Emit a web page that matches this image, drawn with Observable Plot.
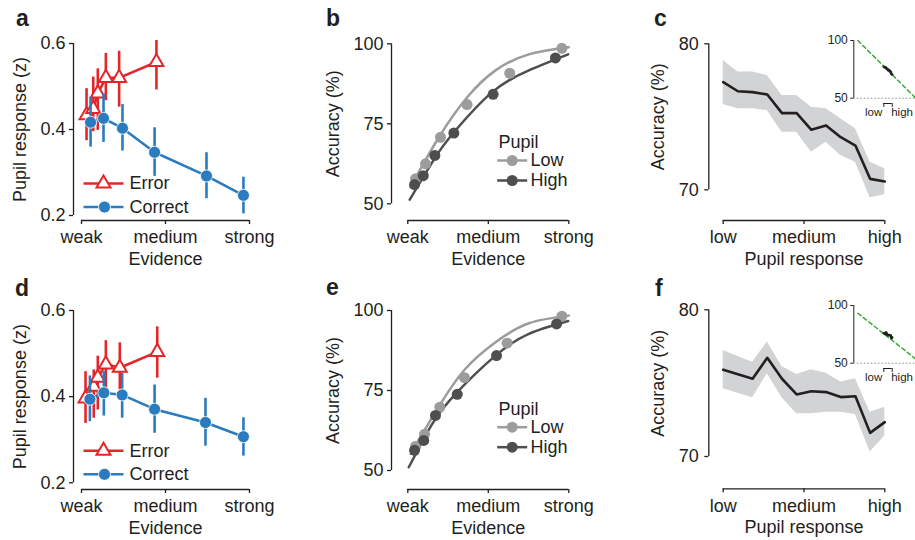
<!DOCTYPE html>
<html><head><meta charset="utf-8">
<script src="https://cdn.jsdelivr.net/npm/d3@7"></script>
<script src="https://cdn.jsdelivr.net/npm/@observablehq/plot@0.6"></script>
<style>
html,body{margin:0;padding:0;overflow:hidden;background:#fff;width:915px;height:540px}
#root{position:relative;width:915px;height:540px;font-family:"Liberation Sans",Arial,Helvetica,sans-serif;color:#231f20;overflow:hidden}
.panel{position:absolute}
.letter{position:absolute;font-weight:bold;font-size:23px;line-height:23px}
</style></head><body><div id="root"></div>
<script>
// ---------- ticks ----------
const evidenceTicks = [0, 0.5, 1];
const evidenceTickLabels = ["weak", "medium", "strong"];
const pupilYTicks = [0.2, 0.4, 0.6];
const accTicks = [50, 75, 100];
const curveTicks = [70, 80];
const pupilBins = [1, 2, 3, 4, 5, 6, 7, 8, 9, 10, 11, 12];
const pupilTicks = [1, 6.5, 12];
const pupilTickLabels = ["low", "medium", "high"];
const insetTicks = [50, 100];
const insetBracket = [1, 12];

// ---------- panel a ----------
const aCorrectX = [0.054, 0.131, 0.244, 0.435, 0.744, 0.964];
const aCorrectY = [0.417, 0.426, 0.403, 0.347, 0.292, 0.247];
const aCorrectLo = [0.359, 0.370, 0.350, 0.291, 0.239, 0.204];
const aCorrectHi = [0.475, 0.483, 0.458, 0.404, 0.346, 0.289];
const aErrorX = [0.030, 0.070, 0.097, 0.145, 0.224, 0.446];
const aErrorY = [0.433, 0.448, 0.484, 0.520, 0.520, 0.557];
const aErrorLo = [0.374, 0.395, 0.398, 0.467, 0.452, 0.492];
const aErrorHi = [0.495, 0.522, 0.541, 0.577, 0.582, 0.607];

// ---------- panel d ----------
const dCorrectX = [0.050, 0.133, 0.242, 0.435, 0.738, 0.964];
const dCorrectY = [0.394, 0.409, 0.404, 0.371, 0.340, 0.307];
const dCorrectLo = [0.342, 0.355, 0.350, 0.315, 0.285, 0.262];
const dCorrectHi = [0.448, 0.458, 0.454, 0.427, 0.396, 0.351];
const dErrorX = [0.024, 0.073, 0.097, 0.145, 0.228, 0.451];
const dErrorY = [0.396, 0.423, 0.444, 0.475, 0.467, 0.504];
const dErrorLo = [0.338, 0.350, 0.369, 0.416, 0.416, 0.443];
const dErrorHi = [0.458, 0.462, 0.494, 0.530, 0.525, 0.562];

// ---------- panel b ----------
const bLowX = [0.048, 0.110, 0.203, 0.368, 0.633, 0.957];
const bLowY = [57.8, 62.5, 70.8, 81.0, 90.8, 98.6];
const bHighX = [0.042, 0.096, 0.168, 0.286, 0.530, 0.917];
const bHighY = [56.0, 58.8, 65.1, 72.1, 84.2, 95.6];
const bLowFitX = [0.017, 0.193, 0.369, 0.545, 0.752, 1.0];
const bLowFitY = [55.2, 70.8, 83.3, 91.7, 96.7, 98.9];
const bHighFitX = [0.012, 0.172, 0.296, 0.524, 0.752, 0.996];
const bHighFitY = [51.3, 64.6, 72.9, 84.9, 91.7, 96.7];

// ---------- panel e ----------
const eLowX = [0.048, 0.104, 0.199, 0.352, 0.617, 0.957];
const eLowY = [57.5, 61.3, 69.8, 79.0, 89.8, 98.2];
const eHighX = [0.042, 0.099, 0.172, 0.307, 0.551, 0.924];
const eHighY = [56.3, 59.4, 67.2, 73.8, 85.9, 95.8];
const eLowFitX = [0.017, 0.193, 0.358, 0.545, 0.752, 1.0];
const eLowFitY = [55.2, 70.0, 81.8, 90.1, 96.0, 98.4];
const eHighFitX = [0.006, 0.152, 0.307, 0.545, 0.752, 0.996];
const eHighFitY = [51.0, 64.6, 74.5, 85.9, 92.7, 96.7];

// ---------- panel c ----------
const cMean = [77.37, 76.75, 76.69, 76.53, 75.25, 75.25, 74.11, 74.41, 73.60, 73.03, 70.75, 70.57];
const cUpper = [78.86, 78.06, 78.06, 77.83, 76.46, 76.46, 75.66, 75.55, 74.86, 74.18, 71.89, 71.44];
const cLower = [75.84, 75.55, 75.55, 75.43, 73.95, 73.95, 72.58, 73.26, 72.35, 71.89, 69.45, 69.66];
const cGreenX = [-33, 42.5];
const cGreenY = [100, 50.3];

// ---------- panel f ----------
const fMean = [75.91, 75.61, 75.30, 76.73, 75.30, 74.23, 74.45, 74.39, 74.05, 74.11, 71.61, 72.34];
const fUpper = [77.23, 76.82, 76.43, 77.80, 76.14, 75.59, 75.91, 75.68, 75.07, 75.30, 73.02, 73.36];
const fLower = [74.61, 74.32, 74.00, 75.64, 74.00, 72.91, 72.91, 73.02, 73.02, 72.86, 70.30, 71.39];
const fGreenX = [-33, 42.5];
const fGreenY = [93.3, 53.8];

// ---------- style ----------
const RED = "#e4262b", BLUE = "#2b7bbf", LIGHT = "#9c9c9c", DARK = "#4e4e4e";
const BAND = "#d2d3d4", GREEN = "#3aa935", INK = "#231f20";
const FONT = '"Liberation Sans", Arial, Helvetica, sans-serif';
const FS = 18;

const root = document.getElementById("root");
function zip(obj) {
  const keys = Object.keys(obj);
  return obj[keys[0]].map((_, i) => Object.fromEntries(keys.map(k => [k, obj[k][i]])));
}
function place(el, left, top) {
  const div = document.createElement("div");
  div.className = "panel";
  div.style.left = left + "px";
  div.style.top = top + "px";
  div.append(el);
  root.append(div);
}
function letter(ch, left, top) {
  const div = document.createElement("div");
  div.className = "letter";
  div.style.left = left + "px";
  div.style.top = top + "px";
  div.textContent = ch;
  root.append(div);
}
const hline = w => ({draw(ctx) { ctx.moveTo(-w, 0); ctx.lineTo(w, 0); }});
const mainStyle = {fontFamily: FONT, fontSize: FS + "px", color: INK, background: "transparent", overflow: "visible"};
const fmtIdx = (ticks, labels) => d => labels[ticks.indexOf(d)];

// ---------- a / d ----------
function pupilPanel({cx, cy, clo, chi, ex, ey, elo, ehi, mTop, mBottom, xDy}) {
  const correct = zip({x: cx, y: cy, lo: clo, hi: chi});
  const error = zip({x: ex, y: ey, lo: elo, hi: ehi});
  return Plot.plot({
    width: 300, height: 270,
    marginLeft: 81, marginRight: 51, marginTop: mTop, marginBottom: mBottom,
    x: {domain: [0, 1]}, y: {domain: [0.2, 0.6]},
    style: mainStyle,
    marks: [
      Plot.ruleX([0], {y1: 0.2, y2: 0.6, dx: -8, stroke: INK, strokeWidth: 1.3}),
      Plot.axisY({ticks: pupilYTicks, tickFormat: d3.format(".1f"), dx: -8, tickSize: 4, tickPadding: 4, label: null, strokeWidth: 1.3}),
      Plot.ruleY([0.2], {x1: 0, x2: 1, dy: xDy, stroke: INK, strokeWidth: 1.3}),
      Plot.axisX({ticks: evidenceTicks, tickFormat: fmtIdx(evidenceTicks, evidenceTickLabels), dy: xDy, tickSize: 4, tickPadding: 6, label: null, strokeWidth: 1.3}),
      Plot.text(["Pupil response (z)"], {frameAnchor: "left", rotate: -90, dx: -61, textAnchor: "middle", lineAnchor: "middle", fontSize: FS}),
      Plot.text(["Evidence"], {frameAnchor: "bottom", dy: xDy + 38.5, lineAnchor: "middle", fontSize: FS}),
      // error
      Plot.ruleX(error, {x: "x", y1: "lo", y2: "hi", stroke: RED, strokeWidth: 2.6}),
      Plot.line(error, {x: "x", y: "y", stroke: RED, strokeWidth: 2.6}),
      Plot.dot(error, {x: "x", y: "y", symbol: "triangle", r: 5.2, fill: "white", stroke: RED, strokeWidth: 2}),
      // correct
      Plot.ruleX(correct, {x: "x", y1: "lo", y2: "hi", stroke: BLUE, strokeWidth: 2.6}),
      Plot.line(correct, {x: "x", y: "y", stroke: BLUE, strokeWidth: 2.6}),
      Plot.dot(correct, {x: "x", y: "y", r: 6, fill: BLUE, stroke: "white", strokeWidth: 0.8}),
      // legend
      Plot.dot(["Error"], {frameAnchor: "bottom-left", dx: 22, dy: -32, symbol: hline(20), fill: "none", stroke: RED, strokeWidth: 2.6}),
      Plot.dot(["Error"], {frameAnchor: "bottom-left", dx: 22, dy: -32, symbol: "triangle", r: 5.2, fill: "white", stroke: RED, strokeWidth: 2}),
      Plot.text(["Error"], {frameAnchor: "bottom-left", dx: 48, dy: -32, textAnchor: "start", lineAnchor: "middle", fontSize: FS}),
      Plot.dot(["Correct"], {frameAnchor: "bottom-left", dx: 22, dy: -8.5, symbol: hline(20), fill: "none", stroke: BLUE, strokeWidth: 2.6}),
      Plot.dot(["Correct"], {frameAnchor: "bottom-left", dx: 23, dy: -8.5, r: 6, fill: BLUE, stroke: "white", strokeWidth: 0.8}),
      Plot.text(["Correct"], {frameAnchor: "bottom-left", dx: 48, dy: -8.5, textAnchor: "start", lineAnchor: "middle", fontSize: FS})
    ]
  });
}

// ---------- b / e ----------
function accPanel({lx, ly, hx, hy, lfx, lfy, hfx, hfy, mTop, mBottom, xDy}) {
  const low = zip({x: lx, y: ly}), high = zip({x: hx, y: hy});
  const lowFit = zip({x: lfx, y: lfy}), highFit = zip({x: hfx, y: hfy});
  return Plot.plot({
    width: 310, height: 270,
    marginLeft: 107.3, marginRight: 41.7, marginTop: mTop, marginBottom: mBottom,
    x: {domain: [0, 1]}, y: {domain: [50, 100]},
    style: mainStyle,
    marks: [
      Plot.ruleX([0], {y1: 50, y2: 100, dx: -16.3, stroke: INK, strokeWidth: 1.3}),
      Plot.axisY({ticks: accTicks, dx: -16.3, tickSize: 4, tickPadding: 4, label: null, strokeWidth: 1.3}),
      Plot.ruleY([50], {x1: 0, x2: 1, dy: xDy, stroke: INK, strokeWidth: 1.3}),
      Plot.axisX({ticks: evidenceTicks, tickFormat: fmtIdx(evidenceTicks, evidenceTickLabels), dy: xDy, tickSize: 4, tickPadding: 6, label: null, strokeWidth: 1.3}),
      Plot.text(["Accuracy (%)"], {frameAnchor: "left", rotate: -90, dx: -74.3, textAnchor: "middle", lineAnchor: "middle", fontSize: FS}),
      Plot.text(["Evidence"], {frameAnchor: "bottom", dy: xDy + 38.5, lineAnchor: "middle", fontSize: FS}),
      Plot.line(lowFit, {x: "x", y: "y", curve: "natural", stroke: LIGHT, strokeWidth: 2.5}),
      Plot.line(highFit, {x: "x", y: "y", curve: "natural", stroke: DARK, strokeWidth: 2.5}),
      Plot.dot(low, {x: "x", y: "y", r: 5.5, fill: LIGHT}),
      Plot.dot(high, {x: "x", y: "y", r: 5.5, fill: DARK}),
      // legend
      Plot.text(["Pupil"], {frameAnchor: "top-left", dx: 90.7, dy: 98.4, textAnchor: "start", lineAnchor: "middle", fontSize: FS}),
      Plot.dot(["Low"], {frameAnchor: "top-left", dx: 104.4, dy: 116.7, symbol: hline(15), fill: "none", stroke: LIGHT, strokeWidth: 2.5}),
      Plot.dot(["Low"], {frameAnchor: "top-left", dx: 104.4, dy: 116.7, r: 5.5, fill: LIGHT}),
      Plot.text(["Low"], {frameAnchor: "top-left", dx: 122.7, dy: 116.7, textAnchor: "start", lineAnchor: "middle", fontSize: FS}),
      Plot.dot(["High"], {frameAnchor: "top-left", dx: 104.4, dy: 136.7, symbol: hline(15), fill: "none", stroke: DARK, strokeWidth: 2.5}),
      Plot.dot(["High"], {frameAnchor: "top-left", dx: 104.4, dy: 136.7, r: 5.5, fill: DARK}),
      Plot.text(["High"], {frameAnchor: "top-left", dx: 122.7, dy: 136.7, textAnchor: "start", lineAnchor: "middle", fontSize: FS})
    ]
  });
}

// ---------- c / f ----------
function curvePanel({mean, upper, lower, mTop, mBottom, xDy}) {
  const data = zip({x: pupilBins, m: mean, u: upper, l: lower});
  return Plot.plot({
    width: 305, height: 270,
    marginLeft: 112.7, marginRight: 30.7, marginTop: mTop, marginBottom: mBottom,
    x: {domain: [1, 12]}, y: {domain: [70, 80]},
    style: mainStyle,
    marks: [
      Plot.ruleX([1], {y1: 70, y2: 80, dx: -14.4, stroke: INK, strokeWidth: 1.3}),
      Plot.axisY({ticks: curveTicks, dx: -14.4, tickSize: 4, tickPadding: 6, label: null, strokeWidth: 1.3}),
      Plot.ruleY([70], {x1: 1, x2: 12, dy: xDy, stroke: INK, strokeWidth: 1.3}),
      Plot.axisX({ticks: pupilTicks, tickFormat: fmtIdx(pupilTicks, pupilTickLabels), dy: xDy, tickSize: 4, tickPadding: 6, label: null, strokeWidth: 1.3}),
      Plot.text(["Accuracy (%)"], {frameAnchor: "left", rotate: -90, dx: -65.2, textAnchor: "middle", lineAnchor: "middle", fontSize: FS}),
      Plot.text(["Pupil response"], {frameAnchor: "bottom", dy: xDy + 38.5, lineAnchor: "middle", fontSize: FS}),
      Plot.areaY(data, {x: "x", y1: "l", y2: "u", fill: BAND}),
      Plot.line(data, {x: "x", y: "m", stroke: INK, strokeWidth: 2.6})
    ]
  });
}

function insetPanel({mean, gx, gy}) {
  const data = zip({x: pupilBins, m: mean});
  const green = zip({x: gx, y: gy});
  return Plot.plot({
    width: 105, height: 100,
    marginLeft: 43.3, marginRight: 0, marginTop: 15, marginBottom: 27.3,
    x: {domain: [-38.3, 42.5], axis: null}, y: {domain: [50, 100]},
    style: {fontFamily: FONT, fontSize: "12px", color: INK, background: "transparent"},
    marks: [
      Plot.ruleY([50], {stroke: "#8a8a8a", strokeWidth: 1, strokeDasharray: "1.5,2"}),
      Plot.ruleX([-38.3], {y1: 50, y2: 100, stroke: INK, strokeWidth: 1}),
      Plot.axisY({ticks: insetTicks, tickSize: 3, tickPadding: 3, label: null, fontSize: 12}),
      Plot.line(green, {x: "x", y: "y", stroke: GREEN, strokeWidth: 1.5, strokeDasharray: "4,3"}),
      Plot.line(data, {x: "x", y: "m", stroke: INK, strokeWidth: 2.6}),
      Plot.ruleY([45.4], {x1: insetBracket[0], x2: insetBracket[1], stroke: INK, strokeWidth: 1}),
      Plot.ruleX(insetBracket, {y1: 42, y2: 45.4, stroke: INK, strokeWidth: 1}),
      Plot.text(["low"], {x: insetBracket[0], y: 38, dx: -1.5, textAnchor: "end", lineAnchor: "middle", fontSize: 11.5}),
      Plot.text(["high"], {x: insetBracket[1], y: 38, dx: -1, textAnchor: "start", lineAnchor: "middle", fontSize: 11.5})
    ]
  });
}

place(pupilPanel({cx: aCorrectX, cy: aCorrectY, clo: aCorrectLo, chi: aCorrectHi, ex: aErrorX, ey: aErrorY, elo: aErrorLo, ehi: aErrorHi, mTop: 43, mBottom: 55, xDy: 5}), 0, 0);
place(pupilPanel({cx: dCorrectX, cy: dCorrectY, clo: dCorrectLo, chi: dCorrectHi, ex: dErrorX, ey: dErrorY, elo: dErrorLo, ehi: dErrorHi, mTop: 40, mBottom: 57.7, xDy: 6.7}), 0, 270);
place(accPanel({lx: bLowX, ly: bLowY, hx: bHighX, hy: bHighY, lfx: bLowFitX, lfy: bLowFitY, hfx: bHighFitX, hfy: bHighFitY, mTop: 43.3, mBottom: 66.7, xDy: 16.7}), 300, 0);
place(accPanel({lx: eLowX, ly: eLowY, hx: eHighX, hy: eHighY, lfx: eLowFitX, lfy: eLowFitY, hfx: eHighFitX, hfy: eHighFitY, mTop: 40, mBottom: 70, xDy: 19}), 300, 270);
place(curvePanel({mean: cMean, upper: cUpper, lower: cLower, mTop: 43.3, mBottom: 80.7, xDy: 30.7}), 610, 0);
place(curvePanel({mean: fMean, upper: fUpper, lower: fLower, mTop: 39.3, mBottom: 84, xDy: 32.3}), 610, 270);
place(insetPanel({mean: cMean, gx: cGreenX, gy: cGreenY}), 810, 25);
place(insetPanel({mean: fMean, gx: fGreenX, gy: fGreenY}), 810, 290);

letter("a", 16, 6.5);
letter("b", 326, 6.5);
letter("c", 654, 6.5);
letter("d", 15, 276.5);
letter("e", 326, 275.5);
letter("f", 655, 276.5);
</script></body></html>
